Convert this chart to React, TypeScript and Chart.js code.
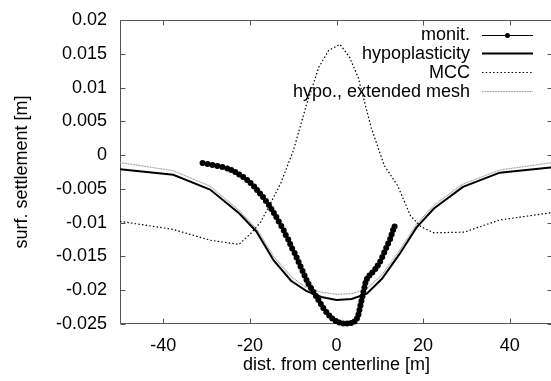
import React, { useEffect, useRef } from "react";
import { Chart, registerables } from "chart.js";

Chart.register(...registerables);

// ---- data ----
const monitX = [
  -30.93, -29.78, -28.64, -27.5, -26.35, -25.21, -24.3, -23.38, -22.47, -21.55,
  -20.64, -19.84, -19.04, -18.35, -17.67, -16.98, -16.3, -15.61, -15.04, -14.47,
  -13.9, -13.33, -12.75, -12.18, -11.73, -11.15, -10.7, -10.24, -9.67, -9.21,
  -8.75, -8.3, -7.84, -7.38, -6.93, -6.47, -5.9, -5.33, -4.75, -4.18,
  -3.61, -3.04, -2.35, -1.67, -0.98, -0.18, 0.62, 1.53, 2.45, 3.36,
  4.16, 4.73, 5.07, 5.3, 5.53, 5.76, 5.99, 6.22, 6.45, 6.67,
  7.02, 7.59, 8.27, 8.96, 9.53, 10.1, 10.56, 11.02, 11.47, 11.93,
  12.39, 12.73, 13.07, 13.42,
];
const monitY = [
  -0.00117, -0.00132, -0.00147, -0.00161, -0.00176, -0.00198, -0.00221, -0.0025, -0.00287, -0.00324,
  -0.00369, -0.00413, -0.00465, -0.00517, -0.00568, -0.0062, -0.00679, -0.00739, -0.00798, -0.00857,
  -0.00916, -0.00983, -0.01049, -0.01116, -0.01183, -0.01249, -0.01316, -0.01382, -0.01449, -0.01516,
  -0.01582, -0.01649, -0.01716, -0.01782, -0.01849, -0.01908, -0.01967, -0.02026, -0.02086, -0.02145,
  -0.02204, -0.02263, -0.02322, -0.02374, -0.02419, -0.02456, -0.02478, -0.02493, -0.02493, -0.02485,
  -0.02463, -0.02419, -0.02359, -0.02293, -0.02226, -0.0216, -0.02093, -0.02026, -0.0196, -0.01893,
  -0.01834, -0.01782, -0.01738, -0.01686, -0.01634, -0.01575, -0.01508, -0.01442, -0.01375, -0.01309,
  -0.01242, -0.01175, -0.01109, -0.01057,
];

const hypoX = [-50, -37.7, -29.2, -22.5, -18.5, -14.5, -10.5, -7, -3.5, 0, 3.5, 7, 10.5, 14.5, 18.5, 22.5, 29.2, 37.7, 50];
const hypoY = [
  -0.0021, -0.0029, -0.0051, -0.0086, -0.0113, -0.0156, -0.0186, -0.0201, -0.021, -0.02145,
  -0.0213, -0.0205, -0.0183, -0.0147, -0.0107, -0.0079, -0.0047, -0.0026, -0.0018,
];

const extX = [-50, -37.7, -29.2, -22.5, -18.5, -14.5, -10.5, -7, -3.5, 0, 3.5, 7, 10.5, 14.5, 18.5, 22.5, 29.2, 37.7, 50];
const extY = [
  -0.0011, -0.0023, -0.0046, -0.0082, -0.0109, -0.015, -0.018, -0.0196, -0.0203, -0.0206,
  -0.0205, -0.0198, -0.0177, -0.0142, -0.0102, -0.0074, -0.0043, -0.0022, -0.0011,
];

const mccX = [-50, -37.7, -29.2, -22.5, -19.8, -17.5, -15.2, -12.9, -9.9, -7.1, -4.1, -1.8, 0.8, 3, 5, 8, 11, 14.1, 17.1, 19.5, 22.5, 29.5, 37.7, 50];
const mccY = [
  -0.0098, -0.011, -0.0126, -0.0132, -0.0116, -0.0099, -0.0071, -0.0042, 0.0008, 0.0071,
  0.013, 0.0155, 0.0164, 0.0145, 0.0115, 0.0041, -0.0015, -0.0045, -0.009, -0.0106,
  -0.0115, -0.0114, -0.0096, -0.0085,
];

const xTicks = [-40, -20, 0, 20, 40];
const yTicks = [-0.025, -0.02, -0.015, -0.01, -0.005, 0, 0.005, 0.01, 0.015, 0.02];
const seriesNames = ["monit.", "hypoplasticity", "MCC", "hypo., extended mesh"];
const xTitle = "dist. from centerline [m]";
const yTitle = "surf. settlement [m]";

const FONT = "'Liberation Sans', Arial, Helvetica, sans-serif";
const FONT_SIZE = 18;

const pts = (xs: number[], ys: number[]) => xs.map((x, i) => ({ x, y: ys[i] }));

const framePlugin = {
  id: "frame",
  beforeDatasetsDraw(chart: any) {
    const { ctx, chartArea: a, scales } = chart;
    ctx.save();
    ctx.strokeStyle = "#555";
    ctx.lineWidth = 1;
    const L = Math.round(a.left) + 0.5;
    const R = Math.round(a.right) - 0.5;
    const T = Math.round(a.top) + 0.5;
    const B = Math.round(a.bottom) - 0.5;
    ctx.beginPath();
    ctx.moveTo(L, T);
    ctx.lineTo(R, T);
    ctx.lineTo(R, B);
    ctx.lineTo(L, B);
    ctx.closePath();
    ctx.stroke();
    const tl = 5;
    ctx.beginPath();
    for (const v of xTicks) {
      const px = Math.round(scales.x.getPixelForValue(v)) + 0.5;
      ctx.moveTo(px, B);
      ctx.lineTo(px, B - tl);
      ctx.moveTo(px, T);
      ctx.lineTo(px, T + tl);
    }
    for (const v of yTicks) {
      const py = Math.round(scales.y.getPixelForValue(v)) + 0.5;
      ctx.moveTo(L, py);
      ctx.lineTo(L + tl, py);
      ctx.moveTo(R, py);
      ctx.lineTo(R - tl, py);
    }
    ctx.stroke();
    ctx.restore();
  },
  afterDraw(chart: any) {
    const { ctx } = chart;
    const textRight = 470;
    const x0 = 482;
    const x1 = 533;
    const rowY = [34.5, 53.3, 72, 90.8];
    ctx.save();
    ctx.font = `${FONT_SIZE}px ${FONT}`;
    ctx.fillStyle = "#000";
    ctx.textAlign = "right";
    ctx.textBaseline = "middle";
    chart.data.datasets.forEach((ds: any, i: number) => {
      const y = rowY[i];
      ctx.fillStyle = "#000";
      ctx.fillText(seriesNames[i], textRight, y + 1);
      ctx.beginPath();
      ctx.setLineDash(ds.borderDash || []);
      ctx.strokeStyle = ds.borderColor;
      ctx.lineWidth = ds.borderWidth;
      ctx.moveTo(x0, Math.round(y) + 0.5);
      ctx.lineTo(x1, Math.round(y) + 0.5);
      ctx.stroke();
      ctx.setLineDash([]);
      if (ds.pointRadius > 0) {
        ctx.beginPath();
        ctx.fillStyle = "#000";
        ctx.arc((x0 + x1) / 2, Math.round(y) + 0.5, 2.5, 0, Math.PI * 2);
        ctx.fill();
      }
    });
    ctx.restore();
  },
};

export default function App() {
  const ref = useRef<HTMLCanvasElement | null>(null);
  useEffect(() => {
    if (!ref.current) return;
    const chart = new Chart(ref.current, {
      type: "scatter",
      data: {
        datasets: [
          {
            label: seriesNames[0],
            data: pts(monitX, monitY),
            showLine: true,
            borderColor: "#000",
            borderWidth: 1,
            backgroundColor: "#000",
            pointRadius: 3,
            pointBorderWidth: 0,
            pointBackgroundColor: "#000",
            clip: false,
          },
          {
            label: seriesNames[1],
            data: pts(hypoX, hypoY),
            showLine: true,
            borderColor: "#000",
            borderWidth: 2,
            pointRadius: 0,
          },
          {
            label: seriesNames[2],
            data: pts(mccX, mccY),
            showLine: true,
            borderColor: "#000",
            borderWidth: 1.2,
            borderDash: [1.5, 2.2],
            pointRadius: 0,
          },
          {
            label: seriesNames[3],
            data: pts(extX, extY),
            showLine: true,
            borderColor: "#999",
            borderWidth: 1.2,
            borderDash: [1, 0.6],
            pointRadius: 0,
          },
        ],
      },
      options: {
        animation: false,
        responsive: false,
        devicePixelRatio: 1,
        layout: { padding: { left: 0, right: 0, top: 20, bottom: 0 } },
        plugins: { legend: { display: false }, tooltip: { enabled: false } },
        scales: {
          x: {
            type: "linear",
            min: -50,
            max: 50,
            grid: { display: false },
            border: { display: false },
            afterBuildTicks: (s: any) => {
              s.ticks = xTicks.map((v) => ({ value: v }));
            },
            afterFit: (s: any) => {
              s.height = 57;
            },
            ticks: {
              color: "#000",
              padding: 3,
              maxRotation: 0,
              font: { family: FONT, size: FONT_SIZE },
              callback: (v: any) => String(v),
            },
            title: {
              display: true,
              text: xTitle,
              color: "#000",
              font: { family: FONT, size: FONT_SIZE },
              padding: { top: 0, bottom: 5 },
            },
          },
          y: {
            type: "linear",
            min: -0.025,
            max: 0.02,
            grid: { display: false },
            border: { display: false },
            afterBuildTicks: (s: any) => {
              s.ticks = yTicks.map((v) => ({ value: v }));
            },
            afterFit: (s: any) => {
              s.width = 120;
            },
            ticks: {
              color: "#000",
              padding: 5,
              font: { family: FONT, size: FONT_SIZE },
              callback: (v: any) => {
                const n = Math.round(Number(v) * 1000) / 1000;
                return n === 0 ? "0" : String(n);
              },
            },
            title: {
              display: true,
              text: yTitle,
              color: "#000",
              font: { family: FONT, size: FONT_SIZE },
              padding: { top: 11, bottom: 0 },
            },
          },
        },
      },
      plugins: [framePlugin],
    } as any);
    return () => chart.destroy();
  }, []);

  return (
    <div
      style={{
        position: "fixed",
        left: 0,
        top: 0,
        width: 551,
        height: 381,
        overflow: "hidden",
        background: "#fff",
      }}
    >
      <canvas ref={ref} width={557} height={381} style={{ display: "block" }} />
    </div>
  );
}
